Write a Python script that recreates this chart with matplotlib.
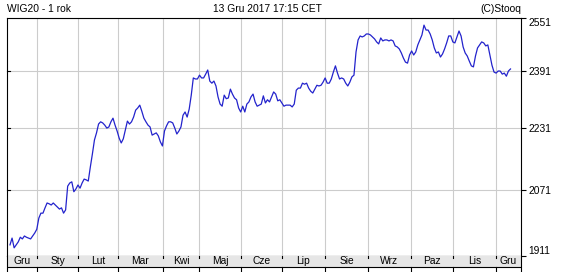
import matplotlib
matplotlib.use("Agg")
import matplotlib.pyplot as plt
from matplotlib.ticker import NullLocator

plt.rcParams['font.family'] = ['Liberation Sans', 'DejaVu Sans']

# WIG20 daily closes, 13 Dec 2016 - 13 Dec 2017
closes = [
    1937, 1953, 1930, 1937, 1944, 1955, 1951, 1958, 1955, 1953,
    1951, 1958, 1965, 1974, 2001, 2013, 2013, 2026, 2038, 2036,
    2033, 2038, 2033, 2028, 2023, 2026, 2013, 2021, 2080, 2088,
    2091, 2066, 2073, 2083, 2075, 2088, 2098, 2096, 2093, 2129,
    2163, 2200, 2219, 2243, 2249, 2246, 2240, 2232, 2235, 2249,
    2259, 2240, 2224, 2205, 2192, 2203, 2227, 2251, 2243, 2249,
    2262, 2281, 2287, 2295, 2278, 2259, 2249, 2240, 2235, 2213,
    2216, 2219, 2211, 2195, 2184, 2224, 2238, 2249, 2249, 2246,
    2232, 2216, 2224, 2235, 2267, 2276, 2262, 2284, 2323, 2372,
    2369, 2369, 2380, 2372, 2372, 2383, 2395, 2363, 2357, 2363,
    2349, 2318, 2298, 2292, 2323, 2313, 2315, 2340, 2326, 2315,
    2310, 2287, 2276, 2292, 2276, 2298, 2304, 2318, 2326, 2304,
    2292, 2295, 2298, 2321, 2301, 2310, 2304, 2318, 2332, 2326,
    2307, 2310, 2301, 2292, 2295, 2295, 2295, 2290, 2298, 2337,
    2343, 2343, 2357, 2354, 2357, 2343, 2334, 2329, 2340, 2351,
    2349, 2351, 2360, 2372, 2357, 2357, 2369, 2389, 2407, 2386,
    2369, 2372, 2369, 2357, 2349, 2360, 2375, 2380, 2448, 2484,
    2496, 2493, 2496, 2502, 2502, 2499, 2493, 2487, 2478, 2472,
    2490, 2481, 2484, 2484, 2481, 2484, 2481, 2466, 2463, 2457,
    2445, 2430, 2418, 2415, 2439, 2451, 2439, 2448, 2469, 2484,
    2499, 2529, 2514, 2514, 2502, 2484, 2460, 2445, 2448, 2433,
    2442, 2457, 2475, 2496, 2496, 2478, 2475, 2493, 2511, 2496,
    2463, 2445, 2436, 2421, 2407, 2404, 2436, 2460, 2469, 2478,
    2475, 2466, 2469, 2439, 2409, 2389, 2386, 2392, 2392, 2383,
    2386, 2377, 2392, 2398,
]

# month boundaries, in trading-day index
month_edges = [13.1, 33.0, 52.4, 74.3, 91.7, 112.1, 132.0, 152.9,
               173.8, 194.7, 215.0, 235.9]
month_labels = ["Gru", "Sty", "Lut", "Mar", "Kwi", "Maj", "Cze", "Lip",
                "Sie", "Wrz", "Paz", "Lis", "Gru"]
y_ticks = [1911, 2071, 2231, 2391, 2551]

W, H = 565, 272
fig = plt.figure(figsize=(W / 100, H / 100), dpi=100)
fig.patch.set_facecolor("white")

x_lo, x_hi = -1.46, 248.1
L, R, T, B = 7, 521, 18, 256
fs = 7.4

ax = fig.add_axes([L / W, 1 - B / H, (R - L) / W, (B - T) / H])
ax.plot(range(len(closes)), closes, color="#2323cc", lw=0.9)
ax.set_yscale("log")
ax.set_ylim(y_ticks[0], y_ticks[-1])
ax.set_xlim(x_lo, x_hi)
ax.yaxis.set_minor_locator(NullLocator())
ax.set_yticks(y_ticks)
ax.set_yticklabels([str(v) for v in y_ticks])
ax.yaxis.tick_right()
ax.tick_params(axis="y", direction="out", length=3.6, width=0.8, pad=1.5,
               labelsize=fs, right=True, left=False)
for lab in ax.get_yticklabels():
    if lab.get_text() == str(y_ticks[-1]):
        lab.set_va("top")
    elif lab.get_text() == str(y_ticks[0]):
        lab.set_va("bottom")
ax.set_xticks(month_edges)
ax.set_xticklabels([])
ax.tick_params(axis="x", length=0)
ax.grid(True, color="#cccccc", lw=0.8)
ax.set_axisbelow(True)
for s in ax.spines.values():
    s.set_color("black")
    s.set_linewidth(0.8)
# small inward ticks on the left edge
for v in y_ticks[1:-1]:
    ax.plot([x_lo, x_lo + 1.4], [v, v], color="black", lw=0.8, clip_on=False)

# month strip under the plot
ax2 = fig.add_axes([L / W, 0, (R - L) / W, (H - B) / H])
ax2.set_xlim(x_lo, x_hi)
ax2.set_ylim(0, H - B)
ax2.axhspan(5, H - B, color="#e6e6e6", lw=0)
ax2.axhline(5, color="black", lw=0.8)
ax2.set_xticks([])
ax2.set_yticks([])
ax2.spines["top"].set_visible(False)
ax2.spines["bottom"].set_visible(False)
for s in ("left", "right"):
    ax2.spines[s].set_linewidth(0.8)
for e in month_edges:
    ax2.plot([e, e], [0, 5], color="black", lw=0.8)
    ax2.plot([e, e], [H - B - 2, H - B], color="black", lw=0.8)
edges = [x_lo] + month_edges + [x_hi]
for i, lab in enumerate(month_labels):
    ax2.text((edges[i] + edges[i + 1]) / 2, 10.5, lab, ha="center",
             va="center", fontsize=fs)

fig.text(L / W, 1 - 9 / H, "WIG20 - 1 rok", ha="left", va="center", fontsize=fs)
fig.text(267 / W, 1 - 9 / H, "13 Gru 2017 17:15 CET", ha="center",
         va="center", fontsize=fs)
fig.text(R / W, 1 - 9 / H, "(C)Stooq", ha="right", va="center", fontsize=fs)

fig.savefig("out.png", dpi=100)
